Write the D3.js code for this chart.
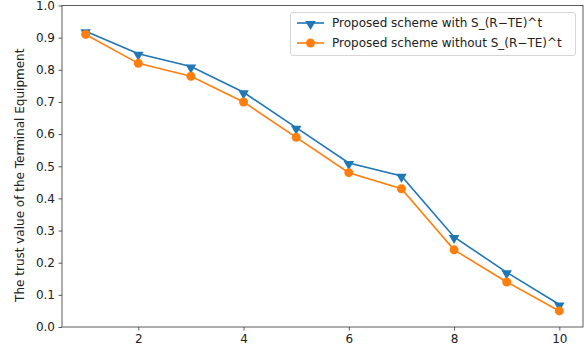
<!DOCTYPE html>
<html>
<head>
<meta charset="utf-8">
<script src="https://cdn.jsdelivr.net/npm/d3@7"></script>
<style>
  body { margin: 0; background: #fff; }
  text { font-family: "DejaVu Sans", sans-serif; }
</style>
</head>
<body>
<script>
let width = 588;
let height = 349;

// data
let rounds = [1, 2, 3, 4, 5, 6, 7, 8, 9, 10];
let withS = [0.92, 0.85, 0.81, 0.73, 0.62, 0.51, 0.47, 0.28, 0.17, 0.07];
let withoutS = [0.91, 0.82, 0.78, 0.70, 0.59, 0.48, 0.43, 0.24, 0.14, 0.05];
let seriesNames = ["Proposed scheme with S_(R\u2212TE)^t", "Proposed scheme without S_(R\u2212TE)^t"];
let xTicks = [2, 4, 6, 8, 10];
let yTicks = [0, 0.1, 0.2, 0.3, 0.4, 0.5, 0.6, 0.7, 0.8, 0.9, 1.0];

let blue = "#1f77b4";
let orange = "#ff7f0e";
let fontSize = 12;

let plotLeft = 62, plotRight = 583, plotTop = 5.5, plotBottom = 327;

let svg = d3.select("body").append("svg")
            .attr("width", width)
            .attr("height", height);

let x = d3.scaleLinear().domain([0.55, 10.45]).range([plotLeft, plotRight]);
let y = d3.scaleLinear().domain([0, 1]).range([plotBottom, plotTop]);

// axes
let xAxis = svg.append("g")
  .attr("transform", "translate(0," + plotBottom + ")")
  .call(d3.axisBottom(x).tickValues(xTicks).tickFormat(d3.format("d")).tickSize(3.5).tickPadding(3.5));
let yAxis = svg.append("g")
  .attr("transform", "translate(" + plotLeft + ",0)")
  .call(d3.axisLeft(y).tickValues(yTicks).tickFormat(d3.format(".1f")).tickSize(3.5).tickPadding(3.5));

[xAxis, yAxis].forEach(function(g) {
  g.select(".domain").remove();
  g.selectAll("line").attr("stroke", "#333").attr("stroke-width", 0.8);
  g.selectAll("text").attr("font-size", fontSize).attr("fill", "#222")
   .style("font-family", "'DejaVu Sans', sans-serif");
});

// frame
svg.append("rect")
  .attr("x", plotLeft).attr("y", plotTop)
  .attr("width", plotRight - plotLeft).attr("height", plotBottom - plotTop)
  .attr("fill", "none").attr("stroke", "#333").attr("stroke-width", 0.8);

svg.append("text")
  .attr("transform", "translate(24," + ((plotTop + plotBottom) / 2 + 9) + ") rotate(-90)")
  .attr("text-anchor", "middle")
  .attr("font-size", fontSize)
  .attr("fill", "#222")
  .text("The trust value of the Terminal Equipment");

let line = d3.line()
  .x(function(d, i) { return x(rounds[i]); })
  .y(function(d) { return y(d); });

let triangle = d3.symbol().type(d3.symbolTriangle).size(48);

function drawSeries(values, color, marker) {
  svg.append("path")
    .datum(values)
    .attr("d", line)
    .attr("fill", "none")
    .attr("stroke", color)
    .attr("stroke-width", 1.6);
  let g = svg.append("g");
  if (marker === "tri") {
    g.selectAll("path").data(values).enter().append("path")
      .attr("d", triangle)
      .attr("transform", function(d, i) { return "translate(" + x(rounds[i]) + "," + (y(d) + 1) + ") rotate(180)"; })
      .attr("fill", color);
  } else {
    g.selectAll("circle").data(values).enter().append("circle")
      .attr("cx", function(d, i) { return x(rounds[i]); })
      .attr("cy", function(d) { return y(d); })
      .attr("r", 4.5)
      .attr("fill", color);
  }
}

drawSeries(withS, blue, "tri");
drawSeries(withoutS, orange, "circle");

// legend
let legend = svg.append("g");
legend.append("rect")
  .attr("x", 290.5).attr("y", 12.5)
  .attr("width", 285).attr("height", 43)
  .attr("rx", 2.5)
  .attr("fill", "#fff").attr("fill-opacity", 0.8)
  .attr("stroke", "#ccc").attr("stroke-width", 0.8);

[[blue, "tri"], [orange, "circle"]].forEach(function(s, i) {
  let ly = 23 + i * 20;
  legend.append("line")
    .attr("x1", 297).attr("x2", 324).attr("y1", ly).attr("y2", ly)
    .attr("stroke", s[0]).attr("stroke-width", 1.6);
  if (s[1] === "tri") {
    legend.append("path").attr("d", triangle)
      .attr("transform", "translate(310.5," + (ly + 1) + ") rotate(180)")
      .attr("fill", s[0]);
  } else {
    legend.append("circle").attr("cx", 310.5).attr("cy", ly).attr("r", 4.5).attr("fill", s[0]);
  }
  legend.append("text")
    .attr("x", 332).attr("y", ly).attr("dy", "0.35em")
    .attr("font-size", fontSize).attr("fill", "#222")
    .text(seriesNames[i]);
});
</script>
</body>
</html>
